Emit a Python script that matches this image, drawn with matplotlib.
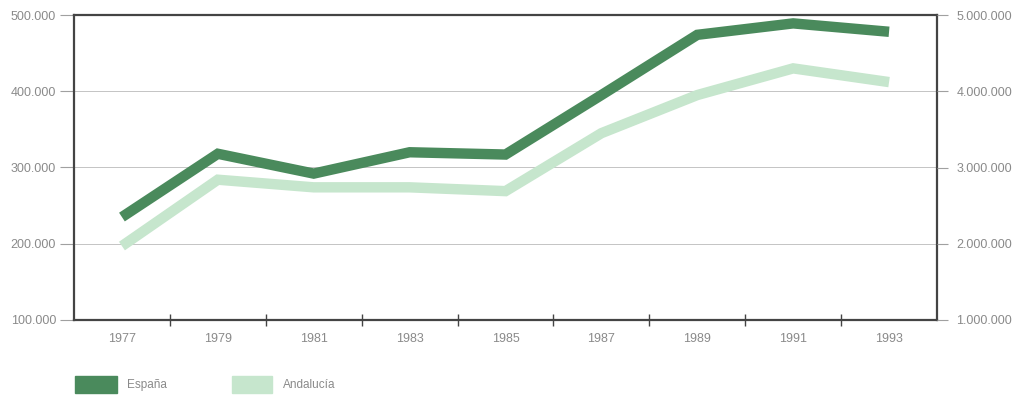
import numpy as np
from matplotlib import pyplot as plt
from matplotlib.patches import Rectangle

plt.rcParams['font.family'] = ['Liberation Sans', 'DejaVu Sans']

# anos y valores (escala izquierda)
years = ['1977', '1979', '1981', '1983', '1985', '1987', '1989', '1991', '1993']
espana = [235000, 318000, 292000, 320000, 317000, 395000, 474000, 489000, 478000]
andalucia = [197000, 284000, 274000, 274000, 269000, 345000, 395000, 430000, 412000]

left_ticks = [100000, 200000, 300000, 400000, 500000]
right_ticks = [1000000, 2000000, 3000000, 4000000, 5000000]

dark = '#4a8a5c'
light = '#c6e6cd'
txt = '#8a8a8a'

def fmt(v):
    return '{:,}'.format(v).replace(',', '.')

fig = plt.figure(figsize=(10.2, 3.98), dpi=100)
ax = fig.add_axes([74/1020, 78/398, 863/1020, 305/398])

x = np.arange(len(years))
ax.plot(x, andalucia, color=light, lw=7.5, solid_capstyle='butt', solid_joinstyle='miter', zorder=3)
ax.plot(x, espana, color=dark, lw=7.5, solid_capstyle='butt', solid_joinstyle='miter', zorder=4)

ax.set_xlim(-0.5, len(years) - 0.5)
ax.set_ylim(100000, 500000)

# ticks between categories, labels centred on them
ax.set_xticks(np.arange(len(years) - 1) + 0.5)
ax.set_xticklabels([])
ax.set_xticks(x, minor=True)
ax.set_xticklabels(years, minor=True)
ax.tick_params(axis='x', which='major', direction='inout', length=8, width=1, color='#444444')
ax.tick_params(axis='x', which='minor', length=0, pad=9, labelsize=9, labelcolor=txt)

ax.set_yticks(left_ticks)
ax.set_yticklabels([fmt(v) for v in left_ticks])
ax.tick_params(axis='y', direction='out', length=10, width=0.8, color='#a0a0a0',
               labelsize=9, labelcolor=txt, pad=3)
ax.grid(axis='y', color='#c4c4c4', lw=0.7)
ax.set_axisbelow(True)

for s in ax.spines.values():
    s.set_color('#444444')
    s.set_linewidth(1.6)

ax2 = ax.twinx()
ax2.set_ylim(1000000, 5000000)
ax2.set_yticks(right_ticks)
ax2.set_yticklabels([fmt(v) for v in right_ticks])
ax2.tick_params(axis='y', direction='out', length=8, width=0.8, color='#a0a0a0',
                labelsize=9, labelcolor=txt, pad=6)
for s in ax2.spines.values():
    s.set_visible(False)

# leyenda abajo
fig.patches.append(Rectangle((75/1020, 5/398), 42/1020, 17/398, transform=fig.transFigure,
                             color=dark, figure=fig))
fig.text(127/1020, 13/398, 'España', fontsize=8.5, color=txt, va='center')
fig.patches.append(Rectangle((232/1020, 5/398), 40/1020, 17/398, transform=fig.transFigure,
                             color=light, figure=fig))
fig.text(283/1020, 13/398, 'Andalucía', fontsize=8.5, color=txt, va='center')

fig.savefig('out.png', dpi=100)
